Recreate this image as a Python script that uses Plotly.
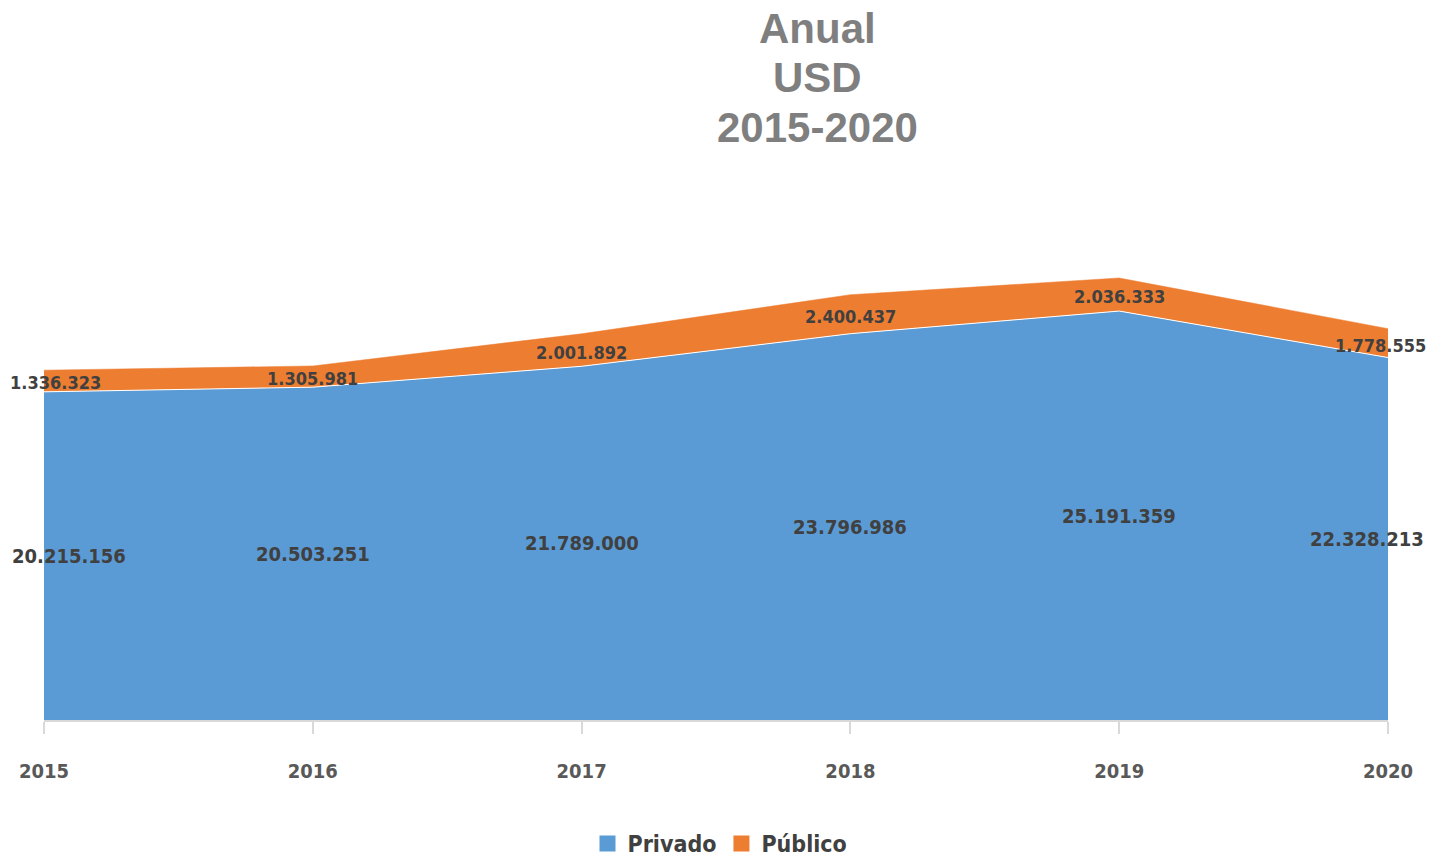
import plotly.graph_objects as go

years = ["2015", "2016", "2017", "2018", "2019", "2020"]
privado = [20215156, 20503251, 21789000, 23796986, 25191359, 22328213]
publico = [1336323, 1305981, 2001892, 2400437, 2036333, 1778555]
title_lines = ["Anual", "USD", "2015-2020"]

BLUE = "#5B9BD5"
ORANGE = "#ED7D31"
LABEL_FONT = "DejaVu Sans Condensed, Liberation Sans Narrow, sans-serif"

W, H = 1429, 864
PLOT_LEFT, PLOT_RIGHT = 44, 1388
PLOT_TOP, PLOT_BOTTOM = 233, 720
PW = PLOT_RIGHT - PLOT_LEFT
PH = PLOT_BOTTOM - PLOT_TOP


def fmt(v):
    return f"{v:,}".replace(",", ".")


fig = go.Figure()
fig.add_trace(go.Scatter(
    x=years, y=privado, name="Privado", stackgroup="one", mode="lines",
    line=dict(color="white", width=1), fillcolor=BLUE, showlegend=False,
    hoverinfo="skip"))
fig.add_trace(go.Scatter(
    x=years, y=publico, name="Público", stackgroup="one", mode="lines",
    line=dict(color=ORANGE, width=0.5), fillcolor=ORANGE, showlegend=False,
    hoverinfo="skip"))

# legend entries
for name, col in [("Privado", BLUE), ("Público", ORANGE)]:
    fig.add_trace(go.Scatter(
        x=[None], y=[None], mode="markers", name=name,
        marker=dict(symbol="square", size=16, color=col)))

n = len(years)
annotations = []
for i, y in enumerate(years):
    shift_p = 25 if i == 0 else (-21 if i == n - 1 else 0)
    shift_u = 11 if i == 0 else (-8 if i == n - 1 else 0)
    annotations.append(dict(
        x=i, y=privado[i] / 2, xref="x", yref="y", text=fmt(privado[i]),
        showarrow=False, xshift=shift_p,
        font=dict(family=LABEL_FONT, size=20, color="#404040", weight="bold")))
    annotations.append(dict(
        x=i, y=privado[i] + publico[i] / 2, xref="x", yref="y",
        text=fmt(publico[i]), showarrow=False, xshift=shift_u, yshift=-2,
        font=dict(family=LABEL_FONT, size=18, color="#404040", weight="bold")))

title_centers = [28, 78, 128]
for line, yc in zip(title_lines, title_centers):
    annotations.append(dict(
        x=(818 - PLOT_LEFT) / PW, y=(PLOT_BOTTOM - yc) / PH,
        xref="paper", yref="paper", yanchor="middle", xanchor="center",
        text=f"<b>{line}</b>", showarrow=False,
        font=dict(family="Liberation Sans, Arial, sans-serif", size=42,
                  color="#7F7F7F")))

fig.update_layout(
    width=W, height=H,
    margin=dict(l=PLOT_LEFT, r=W - PLOT_RIGHT, t=PLOT_TOP, b=H - PLOT_BOTTOM,
                autoexpand=False),
    paper_bgcolor="white", plot_bgcolor="white",
    showlegend=True,
    legend=dict(orientation="h", x=(720 - PLOT_LEFT) / PW, xanchor="center",
                y=(PLOT_BOTTOM - 822) / PH, yanchor="top",
                traceorder="normal",
                font=dict(family=LABEL_FONT, size=23, color="#404040",
                          weight="bold")),
    annotations=annotations,
    xaxis=dict(
        type="category", range=[0, n - 1], showgrid=False,
        showline=True, linecolor="#D9D9D9", linewidth=2,
        ticks="outside", ticklen=12, tickcolor="#D9D9D9", tickwidth=2,
        ticklabelstandoff=20,
        tickfont=dict(family=LABEL_FONT, size=20, color="#595959",
                      weight="bold"),
        automargin=False, fixedrange=True),
    yaxis=dict(range=[0, 30000000], visible=False, showgrid=False,
               fixedrange=True),
)

fig.write_html(
    "out.html",
    config={"displayModeBar": False},
    post_script="document.body.style.margin='0px';"
                "document.body.style.overflow='hidden';")
